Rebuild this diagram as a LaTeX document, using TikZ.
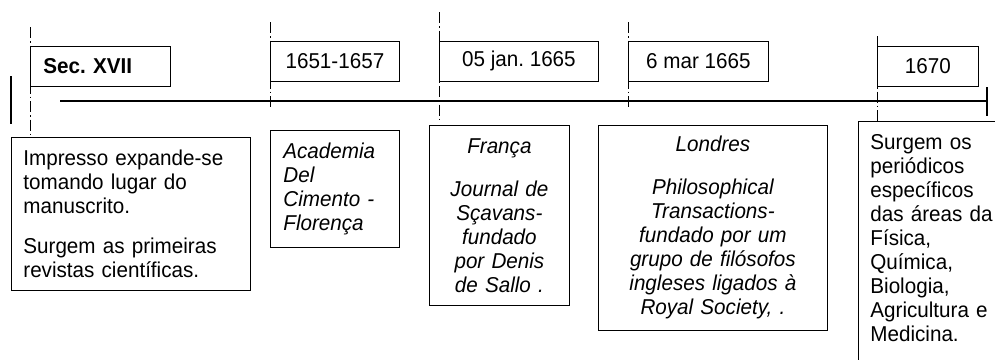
\documentclass[tikz,border=0pt]{standalone}
\usepackage{fontspec}
\setmainfont{Liberation Sans}[FakeStretch=0.96]
\frenchspacing

\tikzset{
  datebox/.style={draw, line width=0.8pt, anchor=north west, minimum height=40, inner sep=0pt, font=\fontsize{21.5}{24}\selectfont},
  notebox/.style={draw, line width=0.8pt, anchor=north west, inner xsep=12, inner ysep=0pt, font=\fontsize{21.5}{24}\selectfont},
  marker/.style={line width=0.7pt, dash pattern={on 11pt off 3pt on 1.5pt off 3pt}},
  axis/.style={line width=2pt}
}

\begin{document}
\begin{tikzpicture}[x=1pt,y=1pt,yscale=-1,xscale=1]
    \clip (0,0) rectangle (995,359);
    
    % Date boxes
    \node [datebox, inner xsep=13, text width=114, align=left] (sec) at (30,46) {\textbf{Sec. XVII}};
    \node [datebox, minimum width=129] (d1651) at (270,41) {1651-1657};
    \node [datebox, minimum width=159] (d1665a) at (439,41) {05 jan. 1665};
    \node [datebox, minimum width=140] (d1665b) at (628,41) {6 mar 1665};
    \node [datebox, minimum width=101] (d1670) at (877,46) {1670};
    
    % Text boxes
    \node [notebox, text width=215, minimum height=153, align=left] (impresso) at (11,137) {Impresso expande-se\\tomando lugar do\\manuscrito.\\[16pt]Surgem as primeiras\\revistas científicas.};
    \node [notebox, inner xsep=13, text width=103, minimum height=117, align=left, font=\fontsize{21.5}{24}\selectfont\itshape] (academia) at (270,130) {Academia\\Del\\Cimento -\\Florença};
    \node [notebox, text width=116, minimum height=180, align=center, font=\fontsize{21.5}{24}\selectfont\itshape] (franca) at (429,125) {França\\[19pt]Journal de\\Sçavans-\\fundado\\por Denis\\de Sallo .};
    \node [notebox, text width=205, minimum height=205, align=center, font=\fontsize{21.5}{24}\selectfont\itshape] (londres) at (598,125) {Londres\\[19pt]Philosophical\\Transactions-\\fundado por um\\grupo de filósofos\\ingleses ligados à\\Royal Society, .};
    \node [notebox, inner ysep=13, text width=150, align=left] (surgem) at (858,121) {Surgem os\\periódicos\\específicos\\das áreas da\\Física,\\Química,\\Biologia,\\Agricultura e\\Medicina.\rule[-40pt]{0pt}{0pt}};
    
    %Straight Lines: time axis
    \coordinate (tstart) at (60,101);
    \coordinate (tend) at (987,101);
    \draw [axis] (tstart) -- (tend) ;
    \draw [axis] (tend) ++(0,-14) -- ++(0,29) ;
    \draw [axis] (11,76) -- (11,124) ;
    
    %Straight Lines: date markers
    \coordinate (m1) at (30,27);
    \coordinate (m2) at (270,22);
    \coordinate (m3) at (439,12);
    \coordinate (m4) at (628,22);
    \coordinate (m5) at (877,36);
    \draw [marker] (m1) -- (m1 |- impresso.north) ;
    \draw [marker] (m2) -- ++(0,88) ;
    \draw [marker] (m3) -- ++(0,110) ;
    \draw [marker] (m4) -- ++(0,88) ;
    \draw [marker] (m5) -- (m5 |- surgem.north) ;
    
\end{tikzpicture}
\end{document}
